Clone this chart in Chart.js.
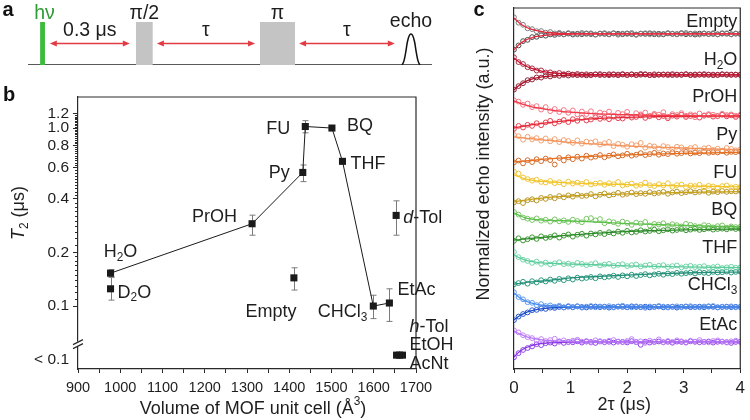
<!DOCTYPE html>
<html><head><meta charset="utf-8">
<script src="https://cdn.jsdelivr.net/npm/chart.js@4.4.0/dist/chart.umd.min.js"></script>
<style>
html,body{margin:0;padding:0;background:#fff;}
#wrap{position:relative;width:750px;height:420px;overflow:hidden;background:#fff;}
.p{position:absolute;}
#pa{left:0;top:0;width:460px;height:80px;}
#pb{left:0;top:80px;width:460px;height:340px;}
#pc{left:460px;top:0;width:290px;height:420px;}
</style></head><body>
<div id="wrap">
<div class="p" id="pa"><canvas id="ca"></canvas></div>
<div class="p" id="pb"><canvas id="cb"></canvas></div>
<div class="p" id="pc"><canvas id="cc"></canvas></div>
</div>
<script>
// ---------------- Panel a: pulse sequence (time in arbitrary units) ----------------
const laserName = ['hν'];
const laserStart = [3.0];
const laserEnd = [4.2];
const pulseNames = ['π/2', 'π'];
const pulseStart = [26.7, 57.4];
const pulseEnd = [30.9, 66.1];
const gapNames = ['0.3 μs', 'τ', 'τ'];
const gapStart = [5.4, 31.9, 67.1];
const gapEnd = [25.2, 56.2, 90.8];
const echoName = 'echo';
const echoT = [92.6, 93.04, 93.48, 93.92, 94.36, 94.8, 95.24, 95.68, 96.12, 96.56, 97.0];
const echoAmp = [0, 0.09, 0.29, 0.54, 0.68, 0.72, 0.68, 0.54, 0.29, 0.09, 0];

// ---------------- Panel b: T2 vs MOF unit-cell volume ----------------
const solvents = ['H_{2}O','D_{2}O','PrOH','Py','FU','BQ','THF','*d*-Tol','Empty','CHCl_{3}','EtAc','*h*-Tol','EtOH','AcNt'];
const cellVolume = [977, 977, 1312, 1432, 1438, 1501, 1526, 1653, 1411, 1599, 1637, 1654, 1661, 1668];
const t2 = [0.153, 0.125, 0.29, 0.563, 1.02, 1.0, 0.65, 0.323, 0.144, 0.100, 0.104, null, null, null]; // null: < 0.1
const t2Low = [0.146, 0.108, 0.25, 0.50, 0.94, null, null, 0.25, 0.123, 0.085, 0.082, null, null, null];
const t2High = [0.160, 0.145, 0.324, 0.62, 1.10, null, null, 0.39, 0.164, 0.115, 0.125, null, null, null];
const trendOrder = ['H_{2}O','PrOH','Py','FU','BQ','THF','CHCl_{3}','EtAc'];
const yTicksB = [0.1, 0.2, 0.4, 0.6, 0.8, 1.0, 1.2];
const belowLabel = '< 0.1';
const xTicksB = [900, 950, 1000, 1050, 1100, 1150, 1200, 1250, 1300, 1350, 1400, 1450, 1500, 1550, 1600, 1650, 1700];

// ---------------- Panel c: echo decays ----------------
const sampleNames = ['Empty','H_{2}O','PrOH','Py','FU','BQ','THF','CHCl_{3}','EtAc'];
const traceOffset = [20.94, 18.38, 15.81, 13.63, 11.25, 8.81, 6.25, 3.875, 1.69];
const tau2 = [0,0.08,0.16,0.24,0.32,0.4,0.48,0.56,0.64,0.72,
0.8,0.88,0.96,1.04,1.12,1.2,1.28,1.36,1.44,1.52,
1.6,1.68,1.76,1.84,1.92,2.0,2.08,2.16,2.24,2.32,
2.4,2.48,2.56,2.64,2.72,2.8,2.88,2.96,3.04,3.12,
3.2,3.28,3.36,3.44,3.52,3.6,3.68,3.76,3.84,3.92,4.0];
const tauFit = [0,0.1,0.2,0.3,0.4,0.5,0.6,0.8,1.0,1.3,1.6,2.0,2.5,3.0,3.5,4.0];
const xTicksC = [0,0.5,1,1.5,2,2.5,3,3.5,4];

const emptyUp = [104,70,57,35,30,17,18,8,12,3, 7,-2,5,1,-3,6,0,4,-4,2, 5,-1,3,-5,2,0,6,-3,1,4, -2,3,-4,0,5,2,-3,1,6,-1, 3,-4,2,0,5,-2,1,4,-3,2, 0];
const emptyDown = [-98,-72,-45,-37,-20,-18,-8,-11,-3,-6, 0,-3,2,-4,1,-2,3,-1,-4,2, 0,-3,4,1,-2,3,-1,-5,2,0, 4,-2,1,-3,3,0,-1,5,-2,1, -4,2,3,-1,0,-3,4,1,-2,2, 0];
const h2oUp = [110,80,68,48,41,27,28,15,16,8, 12,4,8,2,6,0,4,-2,3,5, 1,-2,4,2,5,-1,3,0,6,2, -2,4,1,3,-1,5,2,0,4,-2, 3,1,5,0,2,-1,4,3,0,2, 1];
const h2oDown = [-92,-70,-52,-33,-29,-16,-17,-7,-10,-2, -6,0,-4,1,-2,2,-3,1,3,-1, 0,4,1,-2,2,0,3,-1,1,4, 0,-2,2,1,3,-1,0,2,4,1, -1,3,0,2,-2,1,3,0,2,1, 0];
const prohUp = [98,90,70,78,55,62,40,56,30,44, 25,38,20,35,10,28,12,30,5,22, 15,28,2,20,12,26,-5,18,10,22, 0,14,8,24,-4,12,6,18,2,10, -8,16,4,12,8,-2,14,6,10,2, 8];
const prohDown = [-80,-62,-72,-55,-62,-45,-58,-40,-30,-46, -35,-25,-38,-20,-30,-12,-28,-22,-8,-18, -10,-20,-4,-14,-16,0,-10,-6,4,-12, -2,6,-8,0,-14,2,-4,8,-6,0, 4,-10,2,6,-4,0,8,-2,4,-6, 2];
const pyUp = [100,92,70,88,72,80,64,78,60,74, 55,68,62,50,66,45,58,52,60,40, 48,56,30,44,38,26,42,35,50,20, 32,28,14,30,24,10,26,22,8,18, 24,4,16,20,6,14,2,18,12,4, 10];
const pyDown = [-72,-60,-78,-58,-70,-52,-64,-48,-58,-85, -44,-60,-40,-52,-36,-48,-30,-42,-36,-26, -40,-30,-22,-34,-28,-18,-30,-24,-14,-26, -20,-12,-24,-16,-20,-8,-18,-14,-6,-16, -10,-14,-4,-12,-8,-10,-2,-12,-6,-8, -4];
const fuUp = [108,96,72,62,52,58,44,40,50,36, 42,30,46,34,40,32,44,28,34,38, 26,36,30,44,22,28,34,20,26,40, 24,18,30,22,36,14,24,28,12,22, 18,26,10,20,16,8,18,22,10,14, 12];
const fuDown = [-84,-76,-88,-70,-64,-72,-56,-62,-50,-58, -44,-52,-40,-48,-36,-44,-42,-32,-46,-36, -28,-40,-34,-24,-36,-30,-22,-32,-26,-30, -20,-28,-24,-18,-30,-22,-16,-26,-20,-14, -22,-18,-12,-24,-16,-20,-12,-18,-14,-16, -12];
const bqUp = [100,84,66,58,50,60,46,52,40,54, 42,48,38,52,44,36,58,62,48,56, 30,42,36,26,40,32,20,34,28,38, 16,26,22,30,14,24,18,10,26,20, 12,8,18,14,4,12,16,2,10,6, 8];
const bqDown = [-80,-64,-78,-70,-58,-68,-52,-62,-56,-46, -60,-48,-40,-54,-42,-36,-48,-34,-40,-30, -38,-26,-34,-22,-30,-18,-28,-24,-14,-22, -18,-10,-20,-14,-8,-16,-12,-6,-14,-10, -4,-12,-8,-2,-10,-6,-4,-8,0,-6, -4];
const thfUp = [106,74,58,50,38,46,32,40,28,36, 42,30,34,26,38,32,24,30,36,22, 28,32,20,26,30,18,24,28,16,22, 26,14,20,24,12,18,22,10,16,20, 12,14,18,8,12,16,6,10,14,8, 10];
const thfDown = [-96,-88,-80,-92,-76,-84,-70,-78,-66,-74, -62,-70,-58,-66,-54,-60,-56,-50,-58,-46, -52,-48,-42,-50,-40,-46,-36,-44,-38,-32, -40,-34,-30,-36,-28,-32,-24,-30,-26,-22, -28,-20,-24,-26,-18,-22,-20,-16,-22,-18, -16];
const chclUp = [92,62,48,30,26,12,18,6,10,2, 8,-2,6,0,4,-4,2,6,-2,3, 0,5,-3,2,8,0,-2,4,1,-5, 3,0,6,2,-3,1,4,-1,2,5, 0,-2,3,1,6,-1,2,0,4,-2, 1];
const chclDown = [-82,-60,-44,-34,-20,-18,-10,-12,-4,-6, 0,-3,2,-2,4,0,-3,1,3,-1, 2,-4,0,3,1,-2,4,0,-1,2, -3,1,3,-2,0,2,-4,1,3,-1, 0,2,-2,4,1,-3,0,2,-1,1, 0];
const etacUp = [72,60,42,30,24,10,18,6,12,20, 4,10,-2,8,14,2,6,-4,10,4, 0,8,12,2,-2,6,18,0,4,-6, 8,2,16,-2,6,0,10,4,-4,8, 2,12,0,-2,6,10,2,-4,4,8, 0];
const etacDown = [-96,-70,-50,-38,-28,-14,-20,-8,-4,-10, 2,-6,0,-2,4,-4,2,0,-6,3, -2,1,-4,2,0,-3,5,-1,-18,2, -4,0,3,-2,1,-5,2,0,-3,4, 1,-2,0,3,-4,1,2,-1,-6,0, 2];

const emptyUpFit = [100,67,45,30,20,14,9,4,2,1,0,0,0,0,0,0];
const emptyDownFit = [-100,-63,-40,-26,-16,-10,-7,-3,-1,0,0,0,0,0,0,0];
const h2oUpFit = [106,77,57,42,31,22,16,9,5,2,1,0,0,0,0,0];
const h2oDownFit = [-94,-63,-42,-28,-19,-13,-9,-4,-2,-1,0,0,0,0,0,0];
const prohUpFit = [94,81,69,59,52,46,40,31,24,17,12,8,4,2,1,0];
const prohDownFit = [-75,-68,-62,-56,-51,-46,-42,-34,-27,-19,-13,-8,-4,-2,-1,0];
const pyUpFit = [88,84,80,76,73,69,66,60,53,46,40,31,24,18,12,8];
const pyDownFit = [-69,-66,-63,-60,-57,-53,-50,-45,-41,-35,-31,-25,-20,-16,-12,-9];
const fuUpFit = [88,75,63,56,51,47,45,41,38,34,31,27,23,19,16,13];
const fuDownFit = [-81,-75,-70,-65,-61,-57,-53,-48,-44,-39,-35,-30,-26,-22,-19,-16];
const bqUpFit = [94,78,63,56,52,50,48,46,44,40,35,28,22,17,12,6];
const bqDownFit = [-75,-72,-68,-65,-62,-59,-56,-50,-44,-36,-30,-21,-16,-12,-9,-6];
const thfUpFit = [88,69,56,47,41,38,36,33,31,28,25,20,16,13,11,9];
const thfDownFit = [-94,-90,-85,-81,-78,-75,-72,-64,-56,-50,-45,-38,-31,-25,-21,-19];
const chclUpFit = [88,58,38,25,17,11,7,3,1,0,0,0,0,0,0,0];
const chclDownFit = [-81,-55,-37,-25,-16,-11,-7,-3,-1,0,0,0,0,0,0,0];
const etacUpFit = [69,50,35,25,18,13,9,5,2,1,0,0,0,0,0,0];
const etacDownFit = [-94,-60,-38,-24,-15,-10,-6,-3,-1,0,0,0,0,0,0,0];

// ---------------- styles / layout ----------------
const FONT = '"Liberation Sans", Arial, Helvetica, sans-serif';
const INK = '#1e1e1e';
const AXIS = '#2a2a2a';
const BELOW_T2 = 0.053;      // plotting level of the "< 0.1" group
const BELOW_LABEL_AT = 0.05; // tick position of the "< 0.1" label
const AXIS_BREAK_AT = 0.0615;
const AMP = 0.01;            // stored values are x100

const upPointColor = ['#7e7e7e','#a82840','#f27884','#f0a070','#eec436','#78c464','#6ed4a6','#5e98f0','#c282f8'];
const dnPointColor = ['#4a4a4a','#8c2034','#e4404f','#d06a2a','#b49426','#3a9432','#2a967c','#2856ca','#8e44e8'];
const upFitColor = ['#e8283c','#c8102e','#f23a4a','#f4925a','#f2c624','#5cc04a','#5ccc9c','#4a8ef0','#b878f6'];
const dnFitColor = ['#e8283c','#b01028','#e82838','#e8701e','#c8a018','#2e8c2a','#24907a','#1f4fc8','#8a34e8'];
const labelShiftC = [-12,-15,-19,-16,-16,-18,-21,-22,-17];

const labelAlignB = ['center','left','right','right','right','left','left','left','center','right','left','left','left','left'];
const labelDxB = [10, 7, -15, -13, -15, 15, 8, 7, -23, -6, 8, 13, 10, 7];
const labelDyB = [-21, 4, -7, 1, 3, -2, 3, 3, 34, 6, -13, -28, -10, 9];

// ---------------- rich text helper ----------------
function parseRich(s){
  const out=[]; const re=/_\{([^}]*)\}|\^\{([^}]*)\}|\*([^*]+)\*|([^_^*]+)/g; let m;
  while((m=re.exec(s))){
    if(m[1]!==undefined) out.push({t:m[1],sub:1});
    else if(m[2]!==undefined) out.push({t:m[2],sup:1});
    else if(m[3]!==undefined) out.push({t:m[3],it:1});
    else out.push({t:m[4]});
  }
  return out;
}
function fontFor(g,size,bold){ const sz=(g.sub||g.sup)?size*0.66:size; return (g.it?'italic ':'')+(bold?'bold ':'')+sz+'px '+FONT; }
function drawRich(ctx,s,x,y,opt){
  opt=opt||{}; const size=opt.size||16; const segs=parseRich(s);
  ctx.save(); ctx.fillStyle=opt.color||INK; ctx.textBaseline='middle'; ctx.textAlign='left';
  if(opt.rotate){ ctx.translate(x,y); ctx.rotate(opt.rotate); x=0; y=0; }
  let w=0; segs.forEach(g=>{ ctx.font=fontFor(g,size,opt.bold); w+=ctx.measureText(g.t).width; });
  let cx = opt.align==='right'? x-w : (opt.align==='left'? x : x-w/2);
  segs.forEach(g=>{ ctx.font=fontFor(g,size,opt.bold); let dy=0; if(g.sub) dy=size*0.3; if(g.sup) dy=-size*0.38;
    ctx.fillText(g.t,cx,y+dy); cx+=ctx.measureText(g.t).width; });
  ctx.restore();
}

Chart.defaults.font.family = FONT;
Chart.defaults.color = INK;
const common = { responsive:true, maintainAspectRatio:false, animation:false, devicePixelRatio:1,
  plugins:{ legend:{display:false}, tooltip:{enabled:false} }, events:[] };

// ================= Panel a =================
function rectPts(s,e,h){ return [{x:s,y:0},{x:s,y:h},{x:e,y:h},{x:e,y:0}]; }
const aDatasets = [];
laserStart.forEach((s,i)=>aDatasets.push({data:rectPts(s,laserEnd[i],1),showLine:true,fill:'origin',backgroundColor:'#3dbb3d',borderWidth:0,pointRadius:0,tension:0}));
pulseStart.forEach((s,i)=>aDatasets.push({data:rectPts(s,pulseEnd[i],1),showLine:true,fill:'origin',backgroundColor:'#c4c4c4',borderWidth:0,pointRadius:0,tension:0}));
aDatasets.push({data:echoT.map((t,i)=>({x:t,y:echoAmp[i]})),showLine:true,fill:false,borderColor:'#111',borderWidth:1.5,pointRadius:0,tension:0.4});
aDatasets.push({data:[{x:0,y:0},{x:100,y:0}],showLine:true,fill:false,borderColor:'#222',borderWidth:1.5,pointRadius:0});

function dblArrow(ctx,x1,x2,y,color){
  const L=7,H=3; ctx.save(); ctx.strokeStyle=color; ctx.fillStyle=color; ctx.lineWidth=1.4;
  ctx.beginPath(); ctx.moveTo(x1+L-1,y); ctx.lineTo(x2-L+1,y); ctx.stroke();
  ctx.beginPath(); ctx.moveTo(x1,y); ctx.lineTo(x1+L,y-H); ctx.lineTo(x1+L,y+H); ctx.closePath(); ctx.fill();
  ctx.beginPath(); ctx.moveTo(x2,y); ctx.lineTo(x2-L,y-H); ctx.lineTo(x2-L,y+H); ctx.closePath(); ctx.fill();
  ctx.restore();
}
const aDecor = { id:'aDecor', afterDatasetsDraw(chart){
  const ctx=chart.ctx, xs=chart.scales.x, ys=chart.scales.y;
  const top=ys.getPixelForValue(1), arrowY=ys.getPixelForValue(0.5);
  gapStart.forEach((s,i)=>{ const x1=xs.getPixelForValue(s), x2=xs.getPixelForValue(gapEnd[i]);
    dblArrow(ctx,x1,x2,arrowY,'#e23b44'); drawRich(ctx,gapNames[i],(x1+x2)/2,arrowY-13,{size:19.5}); });
  laserStart.forEach((s,i)=>drawRich(ctx,laserName[i],xs.getPixelForValue((s+laserEnd[i])/2)+2,top-8,{size:19.5,color:'#2f9a35'}));
  pulseStart.forEach((s,i)=>drawRich(ctx,pulseNames[i],xs.getPixelForValue((s+pulseEnd[i])/2),top-8,{size:19.5}));
  let pk=0; echoAmp.forEach((a,i)=>{ if(a>echoAmp[pk]) pk=i; });
  drawRich(ctx,echoName,xs.getPixelForValue(echoT[pk]),ys.getPixelForValue(echoAmp[pk])-12,{size:19.5});
  drawRich(ctx,'a',8,10,{size:20,bold:true,color:'#111'});
}};
new Chart(document.getElementById('ca'), { type:'scatter', data:{datasets:aDatasets},
  options:Object.assign({}, common, { layout:{padding:{left:28,right:28,top:22,bottom:15}},
    scales:{ x:{type:'linear',min:0,max:100,display:false}, y:{min:0,max:1,display:false} } }),
  plugins:[aDecor] });

// ================= Panel b =================
const bPoints = cellVolume.map((v,i)=>({x:v, y: t2[i]===null? BELOW_T2 : t2[i]}));
const trendPts = trendOrder.map(n=>{ const i=solvents.indexOf(n); return {x:cellVolume[i], y:t2[i]}; });
const minorB = []; for(let k=11;k<20;k++) minorB.push(k/100); for(let k=22;k<=118;k+=2){ if([40,60,80,100].indexOf(k)<0) minorB.push(k/100); }

const bDecor = { id:'bDecor',
  beforeDatasetsDraw(chart){
    const ctx=chart.ctx, xs=chart.scales.x, ys=chart.scales.y;
    ctx.save(); ctx.strokeStyle='#7a7a7a'; ctx.lineWidth=1;
    t2Low.forEach((lo,i)=>{ if(lo===null) return; const x=Math.round(xs.getPixelForValue(cellVolume[i]))+0.5;
      const y1=ys.getPixelForValue(lo), y2=ys.getPixelForValue(t2High[i]);
      ctx.beginPath(); ctx.moveTo(x,y1); ctx.lineTo(x,y2); ctx.moveTo(x-3,y1); ctx.lineTo(x+3,y1); ctx.moveTo(x-3,y2); ctx.lineTo(x+3,y2); ctx.stroke(); });
    ctx.restore();
  },
  afterDraw(chart){
    const ctx=chart.ctx, xs=chart.scales.x, ys=chart.scales.y, a=chart.chartArea;
    ctx.save(); ctx.strokeStyle=AXIS; ctx.lineWidth=1.2;
    ctx.beginPath(); ctx.moveTo(a.left,a.top); ctx.lineTo(a.right,a.top); ctx.lineTo(a.right,a.bottom); ctx.stroke();
    ctx.lineWidth=1; ctx.beginPath();
    minorB.forEach(v=>{ const y=Math.round(ys.getPixelForValue(v))+0.5; ctx.moveTo(a.left-3,y); ctx.lineTo(a.left,y); });
    ctx.stroke();
    const by=ys.getPixelForValue(AXIS_BREAK_AT);
    ctx.fillStyle='#fff'; ctx.fillRect(a.left-2,by-2,4,5);
    ctx.lineWidth=1.2; ctx.beginPath();
    ctx.moveTo(a.left-5,by+1); ctx.lineTo(a.left+5,by-4);
    ctx.moveTo(a.left-5,by+5); ctx.lineTo(a.left+5,by);
    ctx.stroke(); ctx.restore();
    solvents.forEach((s,i)=>{ const p=bPoints[i];
      drawRich(ctx,s,xs.getPixelForValue(p.x)+labelDxB[i],ys.getPixelForValue(p.y)+labelDyB[i],{size:18,align:labelAlignB[i]}); });
    drawRich(ctx,'*T*_{2} (μs)',19,133,{size:18,rotate:-Math.PI/2});
    drawRich(ctx,'Volume of MOF unit cell (Å^{3})',(a.left+a.right)/2+6,329,{size:18});
    drawRich(ctx,'b',9,15,{size:20,bold:true,color:'#111'});
  }};

new Chart(document.getElementById('cb'), { type:'scatter',
  data:{ datasets:[
    {data:bPoints, pointStyle:'rect', pointRadius:5, backgroundColor:'#1a1a1a', borderWidth:0, showLine:false},
    {data:trendPts, showLine:true, borderColor:'#1a1a1a', borderWidth:1, pointRadius:0, fill:false}
  ]},
  options:Object.assign({}, common, { layout:{padding:{left:0,right:44,top:17,bottom:0}},
    scales:{
      x:{ type:'linear', min:900, max:1700,
        afterBuildTicks:s=>{ s.ticks = xTicksB.map(v=>({value:v})); },
        afterFit:s=>{ s.height=51; },
        ticks:{ autoSkip:false, maxRotation:0, padding:6, color:INK, font:{size:14.5},
          callback:(v)=> (v%100===0? String(v) : '') },
        grid:{ drawOnChartArea:false, tickLength:4, tickColor:AXIS, tickWidth:1 },
        border:{ display:true, color:AXIS, width:1.2 } },
      y:{ type:'logarithmic', min:0.0443, max:1.494,
        afterBuildTicks:s=>{ s.ticks = [BELOW_LABEL_AT].concat(yTicksB).map(v=>({value:v})); },
        afterFit:s=>{ s.width=78; },
        ticks:{ autoSkip:false, padding:4, color:INK, font:{size:15.5},
          callback:(v)=> (Math.abs(v-BELOW_LABEL_AT)<1e-9? belowLabel : Number(v).toFixed(1)) },
        grid:{ drawOnChartArea:false, tickLength:5, tickWidth:1,
          tickColor:(c)=> (c.tick && Math.abs(c.tick.value-BELOW_LABEL_AT)<1e-9 ? 'rgba(0,0,0,0)' : AXIS) },
        border:{ display:true, color:AXIS, width:1.2 } }
    } }),
  plugins:[bDecor] });

// ================= Panel c =================
const samples = [
  {up:emptyUp, dn:emptyDown, upFit:emptyUpFit, dnFit:emptyDownFit},
  {up:h2oUp, dn:h2oDown, upFit:h2oUpFit, dnFit:h2oDownFit},
  {up:prohUp, dn:prohDown, upFit:prohUpFit, dnFit:prohDownFit},
  {up:pyUp, dn:pyDown, upFit:pyUpFit, dnFit:pyDownFit},
  {up:fuUp, dn:fuDown, upFit:fuUpFit, dnFit:fuDownFit},
  {up:bqUp, dn:bqDown, upFit:bqUpFit, dnFit:bqDownFit},
  {up:thfUp, dn:thfDown, upFit:thfUpFit, dnFit:thfDownFit},
  {up:chclUp, dn:chclDown, upFit:chclUpFit, dnFit:chclDownFit},
  {up:etacUp, dn:etacDown, upFit:etacUpFit, dnFit:etacDownFit}
];
function pts(xs, vals, off){ const n=Math.min(xs.length, vals.length); const o=[]; for(let i=0;i<n;i++) o.push({x:xs[i], y:off+vals[i]*AMP}); return o; }
const fitSets=[], pointSets=[];
samples.forEach((s,i)=>{
  const off=traceOffset[i];
  fitSets.push({data:pts(tauFit,s.upFit,off), showLine:true, borderColor:upFitColor[i], borderWidth:1.3, pointRadius:0, cubicInterpolationMode:'monotone', fill:false});
  fitSets.push({data:pts(tauFit,s.dnFit,off), showLine:true, borderColor:dnFitColor[i], borderWidth:1.3, pointRadius:0, cubicInterpolationMode:'monotone', fill:false});
  pointSets.push({data:pts(tau2,s.up,off), showLine:false, pointStyle:'circle', pointRadius:2.4, borderColor:upPointColor[i], backgroundColor:'rgba(0,0,0,0)', borderWidth:1});
  pointSets.push({data:pts(tau2,s.dn,off), showLine:false, pointStyle:'circle', pointRadius:2.4, borderColor:dnPointColor[i], backgroundColor:'rgba(0,0,0,0)', borderWidth:1});
});
const cDecor = { id:'cDecor', afterDraw(chart){
  const ctx=chart.ctx, ys=chart.scales.y, a=chart.chartArea;
  ctx.save(); ctx.strokeStyle=AXIS; ctx.lineWidth=1.2;
  ctx.beginPath(); ctx.moveTo(a.left,a.top); ctx.lineTo(a.right,a.top); ctx.lineTo(a.right,a.bottom); ctx.stroke(); ctx.restore();
  sampleNames.forEach((n,i)=>drawRich(ctx,n,a.right-3,ys.getPixelForValue(traceOffset[i])+labelShiftC[i],{size:18,align:'right'}));
  drawRich(ctx,'Normalized echo intensity (a.u.)',24,174,{size:18,rotate:-Math.PI/2});
  drawRich(ctx,'2τ (μs)',(a.left+a.right)/2-3,405,{size:18});
  drawRich(ctx,'c',19,10,{size:20,bold:true,color:'#111'});
}};
new Chart(document.getElementById('cc'), { type:'scatter',
  data:{ datasets: fitSets.concat(pointSets) },
  options:Object.assign({}, common, { layout:{padding:{left:0,right:7,top:8,bottom:0}},
    scales:{
      x:{ type:'linear', min:0, max:4,
        afterBuildTicks:s=>{ s.ticks = xTicksC.map(v=>({value:v})); },
        afterFit:s=>{ s.height=51; },
        ticks:{ autoSkip:false, maxRotation:0, padding:5, color:INK, font:{size:17},
          callback:(v)=> (Number.isInteger(v)? String(v) : '') },
        grid:{ drawOnChartArea:false, tickLength:4, tickColor:AXIS, tickWidth:1 },
        border:{ display:true, color:AXIS, width:1.2 } },
      y:{ type:'linear', min:0, max:22.56,
        afterFit:s=>{ s.width=54; },
        ticks:{ display:false },
        grid:{ display:false },
        border:{ display:true, color:AXIS, width:1.2 } }
    } }),
  plugins:[cDecor] });
</script>
</body></html>
